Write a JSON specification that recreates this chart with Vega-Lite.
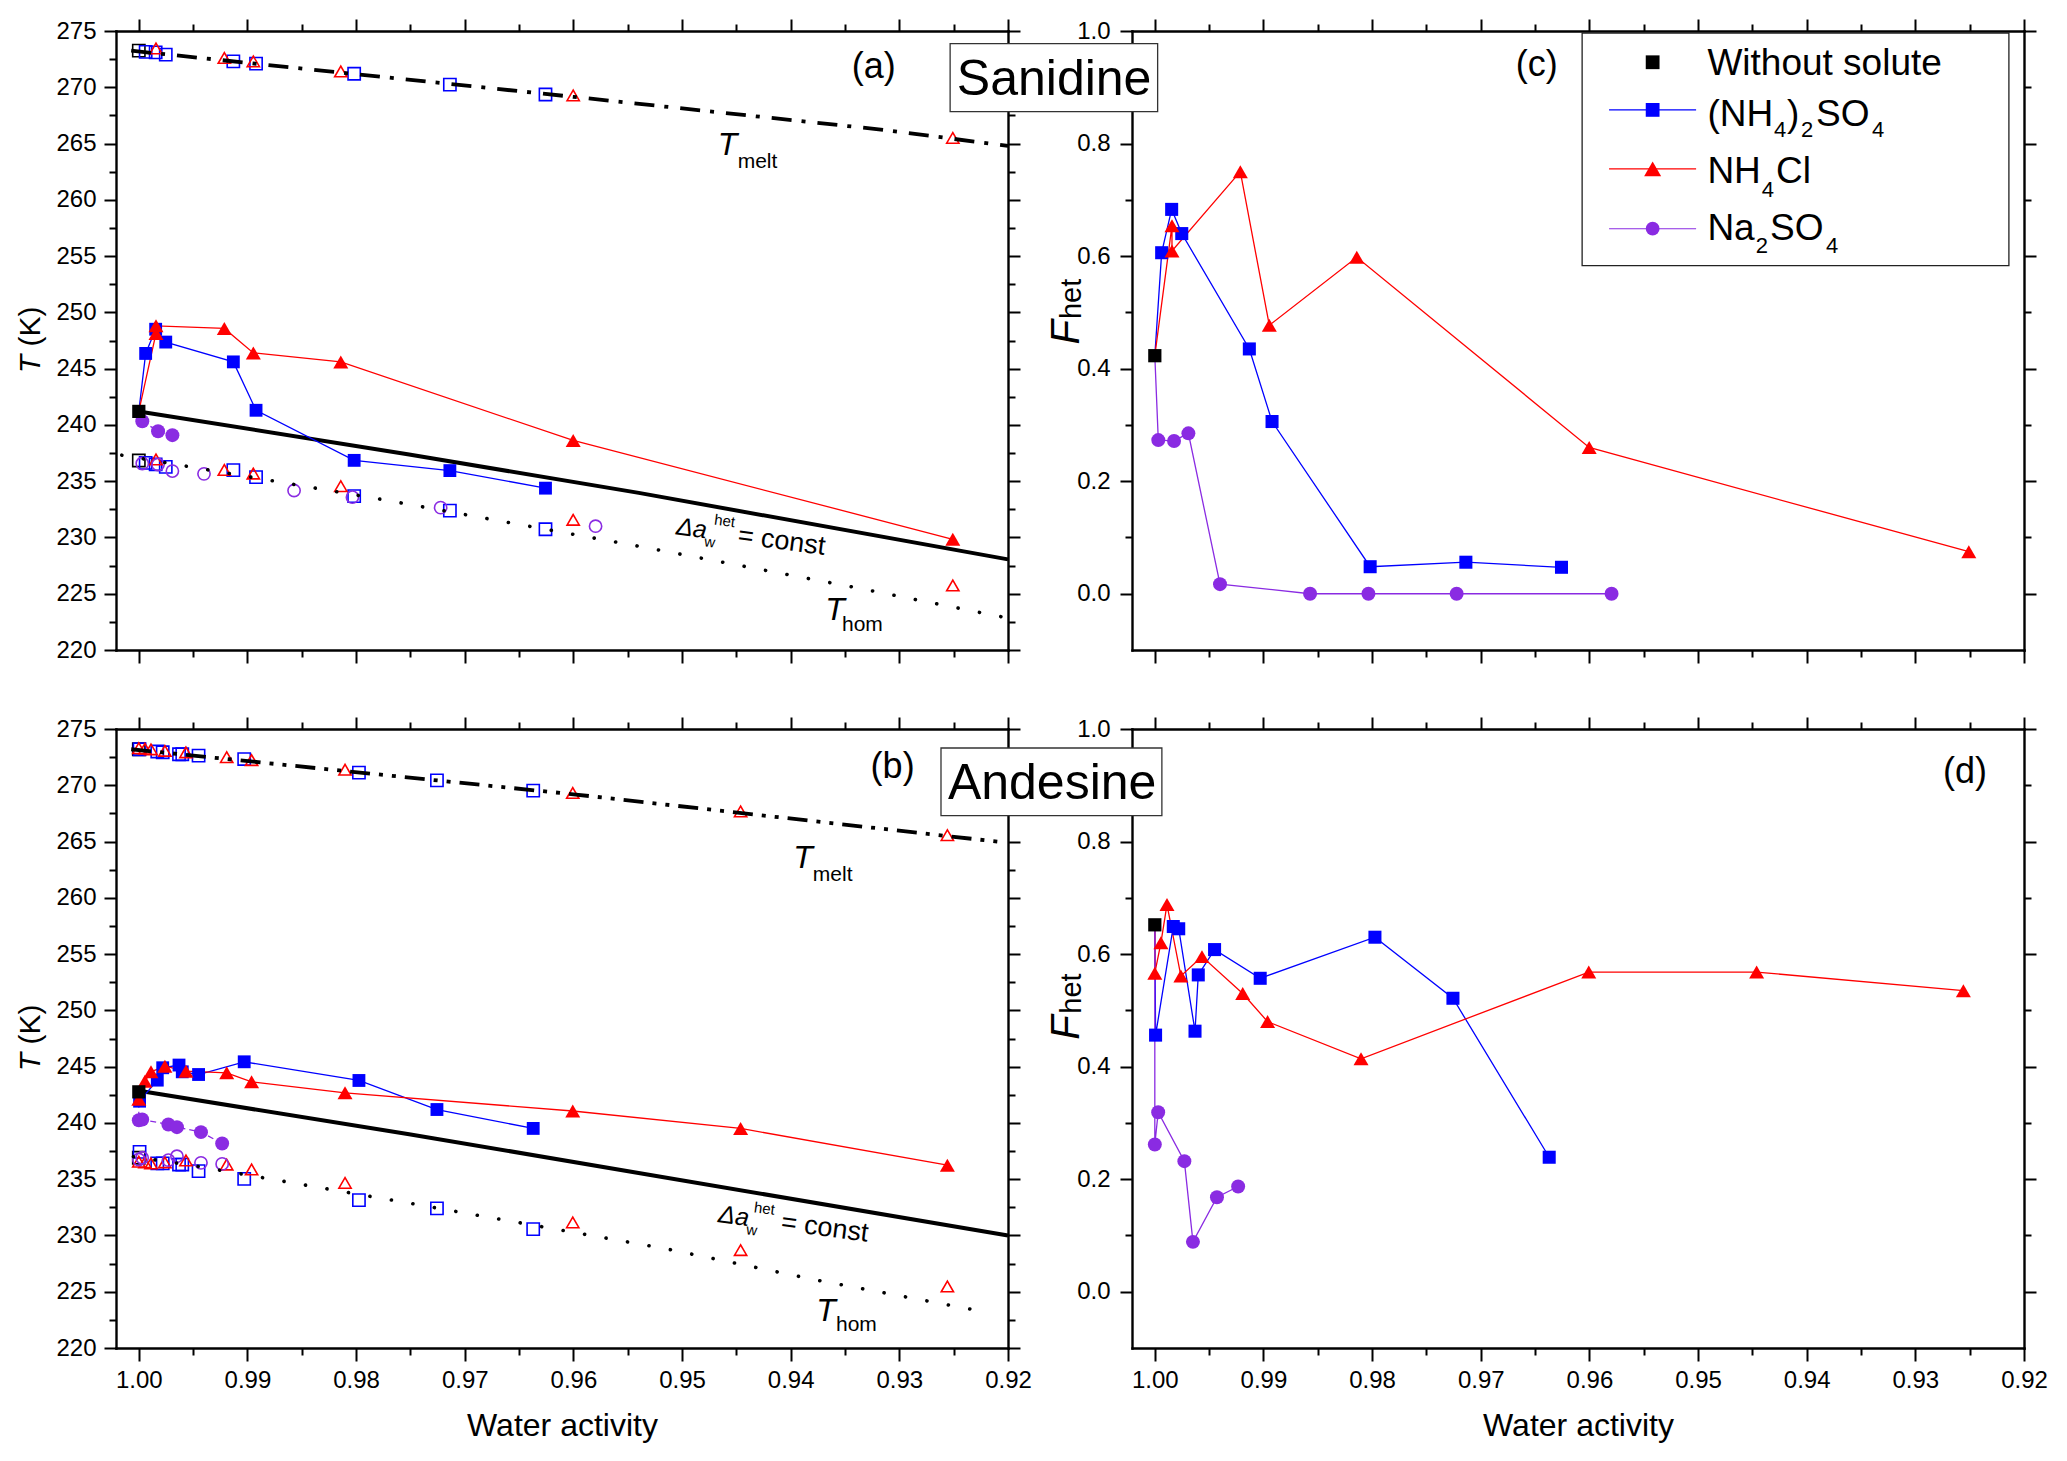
{
  "$schema": "https://vega.github.io/schema/vega-lite/v6.json",
  "background": "white",
  "padding": {"left": 16, "top": 18, "right": 12, "bottom": 12},
  "config": {
    "font": "Liberation Sans",
    "view": {"stroke": null},
    "axis": {
      "domainColor": "black", "domainWidth": 2.4, "domainCap": "square",
      "tickColor": "black", "tickWidth": 2,
      "labelFont": "Liberation Sans", "labelFontSize": 24, "labelColor": "black",
      "titleFont": "Liberation Sans", "titleFontSize": 32, "titleFontWeight": "normal", "titleColor": "black",
      "grid": false, "labelFlush": false, "labelOverlap": false
    }
  },
  "columns": 2,
  "spacing": {"row": 79, "column": 124},
  "bounds": "flush",
  "resolve": {
    "scale": {"color": "independent", "shape": "independent"},
    "legend": {"color": "independent", "shape": "independent"}
  },
  "datasets": {
    "fa": [
      {"aw": 1.0, "T": 241.2, "s": "W", "o": 1},
      {"aw": 1.0, "T": 241.2, "s": "AS", "o": 0},
      {"aw": 0.99937, "T": 246.35, "s": "AS", "o": 1},
      {"aw": 0.99845, "T": 248.5, "s": "AS", "o": 2},
      {"aw": 0.99752, "T": 247.36, "s": "AS", "o": 3},
      {"aw": 0.9913, "T": 245.6, "s": "AS", "o": 4},
      {"aw": 0.98921, "T": 241.3, "s": "AS", "o": 5},
      {"aw": 0.98018, "T": 236.85, "s": "AS", "o": 6},
      {"aw": 0.97137, "T": 235.94, "s": "AS", "o": 7},
      {"aw": 0.96257, "T": 234.38, "s": "AS", "o": 8},
      {"aw": 1.0, "T": 241.2, "s": "AC", "o": 0},
      {"aw": 0.99842, "T": 248.13, "s": "AC", "o": 1},
      {"aw": 0.99842, "T": 248.8, "s": "AC", "o": 2},
      {"aw": 0.99213, "T": 248.57, "s": "AC", "o": 3},
      {"aw": 0.98946, "T": 246.4, "s": "AC", "o": 4},
      {"aw": 0.98141, "T": 245.6, "s": "AC", "o": 5},
      {"aw": 0.96002, "T": 238.62, "s": "AC", "o": 6},
      {"aw": 0.92508, "T": 229.84, "s": "AC", "o": 7},
      {"aw": 1.0, "T": 241.2, "s": "NS", "o": 0},
      {"aw": 0.99968, "T": 240.33, "s": "NS", "o": 1},
      {"aw": 0.99823, "T": 239.44, "s": "NS", "o": 2},
      {"aw": 0.99691, "T": 239.09, "s": "NS", "o": 3}
    ],
    "oa": [
      {"aw": 1.0, "T": 273.25, "s": "W"},
      {"aw": 0.99937, "T": 273.15, "s": "AS"},
      {"aw": 0.99845, "T": 273.1, "s": "AS"},
      {"aw": 0.99752, "T": 272.9, "s": "AS"},
      {"aw": 0.9913, "T": 272.3, "s": "AS"},
      {"aw": 0.98921, "T": 272.1, "s": "AS"},
      {"aw": 0.98018, "T": 271.2, "s": "AS"},
      {"aw": 0.97137, "T": 270.24, "s": "AS"},
      {"aw": 0.96257, "T": 269.36, "s": "AS"},
      {"aw": 0.99842, "T": 273.45, "s": "AC"},
      {"aw": 0.99213, "T": 272.6, "s": "AC"},
      {"aw": 0.98946, "T": 272.3, "s": "AC"},
      {"aw": 0.98141, "T": 271.4, "s": "AC"},
      {"aw": 0.96002, "T": 269.28, "s": "AC"},
      {"aw": 0.92508, "T": 265.5, "s": "AC"},
      {"aw": 1.0, "T": 236.84, "s": "W"},
      {"aw": 0.99937, "T": 236.63, "s": "AS"},
      {"aw": 0.99845, "T": 236.5, "s": "AS"},
      {"aw": 0.99752, "T": 236.27, "s": "AS"},
      {"aw": 0.9913, "T": 235.98, "s": "AS"},
      {"aw": 0.98921, "T": 235.36, "s": "AS"},
      {"aw": 0.98018, "T": 233.67, "s": "AS"},
      {"aw": 0.97137, "T": 232.38, "s": "AS"},
      {"aw": 0.96257, "T": 230.73, "s": "AS"},
      {"aw": 0.99842, "T": 236.93, "s": "AC"},
      {"aw": 0.99213, "T": 236.0, "s": "AC"},
      {"aw": 0.98946, "T": 235.68, "s": "AC"},
      {"aw": 0.98141, "T": 234.56, "s": "AC"},
      {"aw": 0.96002, "T": 231.57, "s": "AC"},
      {"aw": 0.92508, "T": 225.73, "s": "AC"},
      {"aw": 0.99968, "T": 236.57, "s": "NS"},
      {"aw": 0.99823, "T": 236.48, "s": "NS"},
      {"aw": 0.99691, "T": 235.9, "s": "NS"},
      {"aw": 0.994, "T": 235.65, "s": "NS"},
      {"aw": 0.98571, "T": 234.17, "s": "NS"},
      {"aw": 0.98034, "T": 233.58, "s": "NS"},
      {"aw": 0.97222, "T": 232.65, "s": "NS"},
      {"aw": 0.95796, "T": 231.0, "s": "NS"}
    ],
    "fc": [
      {"aw": 1.0, "F": 0.423, "s": "W", "o": 1},
      {"aw": 1.0, "F": 0.423, "s": "AS", "o": 0},
      {"aw": 0.99937, "F": 0.606, "s": "AS", "o": 1},
      {"aw": 0.99845, "F": 0.683, "s": "AS", "o": 2},
      {"aw": 0.99752, "F": 0.64, "s": "AS", "o": 3},
      {"aw": 0.9913, "F": 0.435, "s": "AS", "o": 4},
      {"aw": 0.98921, "F": 0.306, "s": "AS", "o": 5},
      {"aw": 0.98018, "F": 0.048, "s": "AS", "o": 6},
      {"aw": 0.97137, "F": 0.056, "s": "AS", "o": 7},
      {"aw": 0.96257, "F": 0.047, "s": "AS", "o": 8},
      {"aw": 1.0, "F": 0.423, "s": "AC", "o": 0},
      {"aw": 0.99842, "F": 0.654, "s": "AC", "o": 1},
      {"aw": 0.99842, "F": 0.609, "s": "AC", "o": 2},
      {"aw": 0.99213, "F": 0.75, "s": "AC", "o": 3},
      {"aw": 0.98946, "F": 0.477, "s": "AC", "o": 4},
      {"aw": 0.98141, "F": 0.598, "s": "AC", "o": 5},
      {"aw": 0.96002, "F": 0.26, "s": "AC", "o": 6},
      {"aw": 0.92508, "F": 0.0746, "s": "AC", "o": 7},
      {"aw": 1.0, "F": 0.423, "s": "NS", "o": 0},
      {"aw": 0.99968, "F": 0.273, "s": "NS", "o": 1},
      {"aw": 0.99823, "F": 0.2715, "s": "NS", "o": 2},
      {"aw": 0.99691, "F": 0.285, "s": "NS", "o": 3},
      {"aw": 0.994, "F": 0.017, "s": "NS", "o": 4},
      {"aw": 0.98571, "F": 0.0, "s": "NS", "o": 5},
      {"aw": 0.98034, "F": 0.0, "s": "NS", "o": 6},
      {"aw": 0.97222, "F": 0.0, "s": "NS", "o": 7},
      {"aw": 0.95796, "F": 0.0, "s": "NS", "o": 8}
    ],
    "fb": [
      {"aw": 1.0, "T": 242.76, "s": "W", "o": 1},
      {"aw": 1.0, "T": 242.76, "s": "AS", "o": 0},
      {"aw": 0.99993, "T": 241.93, "s": "AS", "o": 1},
      {"aw": 0.9983, "T": 243.8, "s": "AS", "o": 2},
      {"aw": 0.9978, "T": 244.9, "s": "AS", "o": 3},
      {"aw": 0.9963, "T": 245.14, "s": "AS", "o": 4},
      {"aw": 0.996, "T": 244.54, "s": "AS", "o": 5},
      {"aw": 0.9945, "T": 244.3, "s": "AS", "o": 6},
      {"aw": 0.9903, "T": 245.43, "s": "AS", "o": 7},
      {"aw": 0.97974, "T": 243.77, "s": "AS", "o": 8},
      {"aw": 0.97256, "T": 241.19, "s": "AS", "o": 9},
      {"aw": 0.9637, "T": 239.51, "s": "AS", "o": 10},
      {"aw": 1.0, "T": 242.76, "s": "AC", "o": 0},
      {"aw": 1.0, "T": 242.1, "s": "AC", "o": 1},
      {"aw": 0.99944, "T": 243.7, "s": "AC", "o": 2},
      {"aw": 0.99888, "T": 244.54, "s": "AC", "o": 3},
      {"aw": 0.9976, "T": 245.04, "s": "AC", "o": 4},
      {"aw": 0.99566, "T": 244.6, "s": "AC", "o": 5},
      {"aw": 0.99191, "T": 244.45, "s": "AC", "o": 6},
      {"aw": 0.98962, "T": 243.65, "s": "AC", "o": 7},
      {"aw": 0.98102, "T": 242.67, "s": "AC", "o": 8},
      {"aw": 0.96006, "T": 241.06, "s": "AC", "o": 9},
      {"aw": 0.94461, "T": 239.51, "s": "AC", "o": 10},
      {"aw": 0.92558, "T": 236.24, "s": "AC", "o": 11},
      {"aw": 1.0, "T": 242.76, "s": "NS", "o": 0},
      {"aw": 1.0, "T": 240.24, "s": "NS", "o": 1},
      {"aw": 0.99969, "T": 240.3, "s": "NS", "o": 2},
      {"aw": 0.99728, "T": 239.86, "s": "NS", "o": 3},
      {"aw": 0.99649, "T": 239.62, "s": "NS", "o": 4},
      {"aw": 0.99428, "T": 239.18, "s": "NS", "o": 5},
      {"aw": 0.99233, "T": 238.17, "s": "NS", "o": 6}
    ],
    "ob": [
      {"aw": 1.0, "T": 273.2, "s": "W"},
      {"aw": 0.99993, "T": 273.2, "s": "AS"},
      {"aw": 0.9983, "T": 273.0, "s": "AS"},
      {"aw": 0.9978, "T": 272.93, "s": "AS"},
      {"aw": 0.9963, "T": 272.76, "s": "AS"},
      {"aw": 0.996, "T": 272.76, "s": "AS"},
      {"aw": 0.9945, "T": 272.63, "s": "AS"},
      {"aw": 0.9903, "T": 272.33, "s": "AS"},
      {"aw": 0.97974, "T": 271.12, "s": "AS"},
      {"aw": 0.97256, "T": 270.43, "s": "AS"},
      {"aw": 0.9637, "T": 269.53, "s": "AS"},
      {"aw": 1.0, "T": 273.3, "s": "AC"},
      {"aw": 0.99944, "T": 273.25, "s": "AC"},
      {"aw": 0.99888, "T": 273.19, "s": "AC"},
      {"aw": 0.9976, "T": 273.06, "s": "AC"},
      {"aw": 0.99566, "T": 272.93, "s": "AC"},
      {"aw": 0.99191, "T": 272.5, "s": "AC"},
      {"aw": 0.98962, "T": 272.24, "s": "AC"},
      {"aw": 0.98102, "T": 271.38, "s": "AC"},
      {"aw": 0.96006, "T": 269.32, "s": "AC"},
      {"aw": 0.94461, "T": 267.68, "s": "AC"},
      {"aw": 0.92558, "T": 265.57, "s": "AC"},
      {"aw": 1.0, "T": 236.9, "s": "W"},
      {"aw": 0.99993, "T": 237.43, "s": "AS"},
      {"aw": 0.9983, "T": 236.4, "s": "AS"},
      {"aw": 0.9978, "T": 236.4, "s": "AS"},
      {"aw": 0.9963, "T": 236.3, "s": "AS"},
      {"aw": 0.996, "T": 236.3, "s": "AS"},
      {"aw": 0.9945, "T": 235.71, "s": "AS"},
      {"aw": 0.9903, "T": 235.03, "s": "AS"},
      {"aw": 0.97974, "T": 233.14, "s": "AS"},
      {"aw": 0.97256, "T": 232.41, "s": "AS"},
      {"aw": 0.9637, "T": 230.56, "s": "AS"},
      {"aw": 1.0, "T": 236.55, "s": "AC"},
      {"aw": 0.99944, "T": 236.5, "s": "AC"},
      {"aw": 0.99888, "T": 236.4, "s": "AC"},
      {"aw": 0.9976, "T": 236.5, "s": "AC"},
      {"aw": 0.99566, "T": 236.66, "s": "AC"},
      {"aw": 0.99191, "T": 236.3, "s": "AC"},
      {"aw": 0.98962, "T": 235.86, "s": "AC"},
      {"aw": 0.98102, "T": 234.67, "s": "AC"},
      {"aw": 0.96006, "T": 231.16, "s": "AC"},
      {"aw": 0.94461, "T": 228.7, "s": "AC"},
      {"aw": 0.92558, "T": 225.47, "s": "AC"},
      {"aw": 1.0, "T": 236.75, "s": "NS"},
      {"aw": 0.99969, "T": 236.9, "s": "NS"},
      {"aw": 0.99728, "T": 236.69, "s": "NS"},
      {"aw": 0.99649, "T": 237.04, "s": "NS"},
      {"aw": 0.99428, "T": 236.45, "s": "NS"},
      {"aw": 0.99233, "T": 236.36, "s": "NS"}
    ],
    "fd": [
      {"aw": 1.0, "F": 0.652, "s": "W", "o": 1},
      {"aw": 1.0, "F": 0.652, "s": "AS", "o": 0},
      {"aw": 0.99993, "F": 0.456, "s": "AS", "o": 1},
      {"aw": 0.9983, "F": 0.649, "s": "AS", "o": 2},
      {"aw": 0.9978, "F": 0.645, "s": "AS", "o": 3},
      {"aw": 0.9963, "F": 0.463, "s": "AS", "o": 4},
      {"aw": 0.996, "F": 0.563, "s": "AS", "o": 5},
      {"aw": 0.9945, "F": 0.608, "s": "AS", "o": 6},
      {"aw": 0.9903, "F": 0.557, "s": "AS", "o": 7},
      {"aw": 0.97974, "F": 0.63, "s": "AS", "o": 8},
      {"aw": 0.97256, "F": 0.5215, "s": "AS", "o": 9},
      {"aw": 0.9637, "F": 0.239, "s": "AS", "o": 10},
      {"aw": 1.0, "F": 0.652, "s": "AC", "o": 0},
      {"aw": 1.0, "F": 0.566, "s": "AC", "o": 1},
      {"aw": 0.99944, "F": 0.62, "s": "AC", "o": 2},
      {"aw": 0.99888, "F": 0.688, "s": "AC", "o": 3},
      {"aw": 0.9976, "F": 0.561, "s": "AC", "o": 4},
      {"aw": 0.99566, "F": 0.5955, "s": "AC", "o": 5},
      {"aw": 0.99191, "F": 0.53, "s": "AC", "o": 6},
      {"aw": 0.98962, "F": 0.48, "s": "AC", "o": 7},
      {"aw": 0.98102, "F": 0.414, "s": "AC", "o": 8},
      {"aw": 0.96006, "F": 0.568, "s": "AC", "o": 9},
      {"aw": 0.94461, "F": 0.568, "s": "AC", "o": 10},
      {"aw": 0.92558, "F": 0.535, "s": "AC", "o": 11},
      {"aw": 1.0, "F": 0.652, "s": "NS", "o": 0},
      {"aw": 1.0, "F": 0.2616, "s": "NS", "o": 1},
      {"aw": 0.99969, "F": 0.319, "s": "NS", "o": 2},
      {"aw": 0.99728, "F": 0.232, "s": "NS", "o": 3},
      {"aw": 0.99649, "F": 0.0886, "s": "NS", "o": 4},
      {"aw": 0.99428, "F": 0.168, "s": "NS", "o": 5},
      {"aw": 0.99233, "F": 0.187, "s": "NS", "o": 6}
    ],
    "meltA": [{"aw": 1.0007, "T": 273.25}, {"aw": 0.96, "T": 269.15}, {"aw": 0.93191, "T": 266.26}, {"aw": 0.92, "T": 264.8}],
    "thomA": [{"aw": 1.00157, "T": 237.31}, {"aw": 0.97758, "T": 233.37}, {"aw": 0.954, "T": 229.22}, {"aw": 0.9342, "T": 225.58}, {"aw": 0.9204, "T": 222.91}],
    "daA": [{"aw": 1.0, "T": 241.2}, {"aw": 0.97512, "T": 237.37}, {"aw": 0.95398, "T": 233.96}, {"aw": 0.92, "T": 228.05}],
    "meltB": [{"aw": 1.0007, "T": 273.2}, {"aw": 0.96, "T": 269.2}, {"aw": 0.9206, "T": 264.95}],
    "thomB": [{"aw": 1.0005, "T": 237.0}, {"aw": 0.99507, "T": 236.22}, {"aw": 0.98709, "T": 234.88}, {"aw": 0.97528, "T": 232.9}, {"aw": 0.95155, "T": 228.83}, {"aw": 0.9376, "T": 226.03}, {"aw": 0.9218, "T": 223.15}],
    "daB": [{"aw": 1.0, "T": 242.85}, {"aw": 0.97512, "T": 239.0}, {"aw": 0.92, "T": 230.0}],
    "zero": [{"F": 0}],
    "ytT": [{"aw": 1.00907, "T": 244.6, "t": "T"}],
    "ytK": [{"aw": 1.00907, "T": 246.96, "t": "(K)"}],
    "a_T": [{"aw": 0.94672, "T": 264.0, "t": "T"}, {"aw": 0.93681, "T": 222.71, "t": "T"}],
    "a_sub": [{"aw": 0.94488, "T": 262.85, "t": "melt"}, {"aw": 0.93528, "T": 221.67, "t": "hom"}],
    "a_da": [{"aw": 0.95061, "T": 230.29, "t": "Δa"}],
    "a_ss": [{"aw": 0.94708, "T": 231.15, "t": "het"}, {"aw": 0.948, "T": 229.22, "t": "w"}],
    "a_eq": [{"aw": 0.94494, "T": 229.46, "t": "= const"}],
    "a_lab": [{"aw": 0.93236, "T": 270.84, "t": "(a)"}],
    "b_T": [{"aw": 0.93976, "T": 262.63, "t": "T"}, {"aw": 0.93764, "T": 222.36, "t": "T"}],
    "b_sub": [{"aw": 0.93796, "T": 261.47, "t": "melt"}, {"aw": 0.93583, "T": 221.51, "t": "hom"}],
    "b_da": [{"aw": 0.94673, "T": 231.2, "t": "Δa"}],
    "b_ss": [{"aw": 0.94343, "T": 232.07, "t": "het"}, {"aw": 0.94414, "T": 230.11, "t": "w"}],
    "b_eq": [{"aw": 0.94097, "T": 230.47, "t": "= const"}],
    "b_lab": [{"aw": 0.93062, "T": 270.64, "t": "(b)"}],
    "c_lab": [{"aw": 0.96484, "F": 0.92, "t": "(c)"}],
    "c_F": [{"aw": 1.00695, "F": 0.443, "t": "F"}],
    "c_het": [{"aw": 1.00681, "F": 0.488, "t": "het"}],
    "c_box": [{"aw": 1.01884, "aw2": 0.99974, "F": 0.97746, "F2": 0.85679}],
    "c_name": [{"aw": 1.00927, "F": 0.88642, "t": "Sanidine"}],
    "c_leg": [{"aw": 0.96067, "aw2": 0.92139, "F": 0.99645, "F2": 0.58296}],
    "c_legl": [
      {"aw": 0.95819, "aw2": 0.95018, "F": 0.8598, "s": "AS"},
      {"aw": 0.95819, "aw2": 0.95018, "F": 0.7551, "s": "AC"},
      {"aw": 0.95819, "aw2": 0.95018, "F": 0.64862, "s": "NS"}
    ],
    "c_legs": [
      {"aw": 0.95418, "F": 0.94446, "s": "W"},
      {"aw": 0.95418, "F": 0.8598, "s": "AS"},
      {"aw": 0.95418, "F": 0.7551, "s": "AC"},
      {"aw": 0.95418, "F": 0.64862, "s": "NS"}
    ],
    "c_legt": [
      {"aw": 0.94914, "F": 0.9219, "t": "Without solute"},
      {"aw": 0.94914, "F": 0.832, "t": "(NH"},
      {"aw": 0.94181, "F": 0.832, "t": ")"},
      {"aw": 0.93914, "F": 0.832, "t": "SO"},
      {"aw": 0.94914, "F": 0.7303, "t": "NH"},
      {"aw": 0.94282, "F": 0.7303, "t": "Cl"},
      {"aw": 0.94914, "F": 0.6279, "t": "Na"},
      {"aw": 0.94338, "F": 0.6279, "t": "SO"}
    ],
    "c_legsub": [
      {"aw": 0.94301, "F": 0.8114, "t": "4"},
      {"aw": 0.94052, "F": 0.8114, "t": "2"},
      {"aw": 0.93399, "F": 0.8114, "t": "4"},
      {"aw": 0.94414, "F": 0.7042, "t": "4"},
      {"aw": 0.94469, "F": 0.606, "t": "2"},
      {"aw": 0.93822, "F": 0.606, "t": "4"}
    ],
    "d_lab": [{"aw": 0.92544, "F": 0.9042, "t": "(d)"}],
    "d_F": [{"aw": 1.00695, "F": 0.448, "t": "F"}],
    "d_het": [{"aw": 1.00681, "F": 0.494, "t": "het"}],
    "d_box": [{"aw": 1.01968, "aw2": 0.99935, "F": 0.96628, "F2": 0.84596}],
    "d_name": [{"aw": 1.00945, "F": 0.87507, "t": "Andesine"}]
  },
  "concat": [
    {
      "width": 892, "height": 619,
      "encoding": {
        "x": {"field": "aw", "type": "quantitative", "scale": {"domain": [0.92, 1.0021], "reverse": true, "nice": false, "zero": false}, "axis": null},
        "y": {"field": "T", "type": "quantitative", "scale": {"domain": [220, 275], "nice": false, "zero": false}, "axis": null}
      },
      "resolve": {"axis": {"x": "independent", "y": "independent"}},
      "layer": [
        {"data": {"name": "oa"}, "mark": {"type": "point", "filled": false, "opacity": 1, "strokeWidth": 1.6, "size": 150},
         "encoding": {
           "color": {"field": "s", "type": "nominal", "scale": {"domain": ["W", "AS", "AC", "NS"], "range": ["#000000", "#0000ff", "#ff0000", "#8a2be2"]}, "legend": null},
           "shape": {"field": "s", "type": "nominal", "scale": {"domain": ["W", "AS", "AC", "NS"], "range": ["square", "square", "triangle-up", "circle"]}, "legend": null}
         }},
        {"data": {"name": "thomA"}, "mark": {"type": "line", "color": "black", "strokeWidth": 3.6, "strokeDash": [0.1, 21.7], "strokeCap": "round"},
         "encoding": {
           "x": {"field": "aw", "type": "quantitative", "scale": {"domain": [0.92, 1.0021], "reverse": true, "nice": false, "zero": false}, "axis": {"orient": "bottom", "values": [1.0, 0.99, 0.98, 0.97, 0.96, 0.95, 0.94, 0.93, 0.92], "labels": false, "tickSize": 13, "title": null}},
           "y": {"field": "T", "type": "quantitative", "scale": {"domain": [220, 275], "nice": false, "zero": false}, "axis": {"orient": "left", "values": [220, 225, 230, 235, 240, 245, 250, 255, 260, 265, 270, 275], "format": "d", "tickSize": 12, "labelPadding": 8, "title": null}}
         }},
        {"data": {"name": "meltA"}, "mark": {"type": "line", "color": "black", "strokeWidth": 3.8, "strokeDash": [20, 10, 4, 12]},
         "encoding": {
           "x": {"field": "aw", "type": "quantitative", "scale": {"domain": [0.92, 1.0021], "reverse": true, "nice": false, "zero": false}, "axis": {"orient": "bottom", "values": [0.995, 0.985, 0.975, 0.965, 0.955, 0.945, 0.935, 0.925], "labels": false, "domain": false, "tickSize": 7, "title": null}},
           "y": {"field": "T", "type": "quantitative", "scale": {"domain": [220, 275], "nice": false, "zero": false}, "axis": {"orient": "left", "values": [222.5, 227.5, 232.5, 237.5, 242.5, 247.5, 252.5, 257.5, 262.5, 267.5, 272.5], "labels": false, "domain": false, "tickSize": 7, "title": null}}
         }},
        {"data": {"name": "daA"}, "mark": {"type": "line", "color": "black", "strokeWidth": 4},
         "encoding": {
           "x": {"field": "aw", "type": "quantitative", "scale": {"domain": [0.92, 1.0021], "reverse": true, "nice": false, "zero": false}, "axis": {"orient": "top", "values": [1.0, 0.99, 0.98, 0.97, 0.96, 0.95, 0.94, 0.93, 0.92], "labels": false, "tickSize": 12, "title": null}},
           "y": {"field": "T", "type": "quantitative", "scale": {"domain": [220, 275], "nice": false, "zero": false}, "axis": {"orient": "right", "values": [220, 225, 230, 235, 240, 245, 250, 255, 260, 265, 270, 275], "labels": false, "tickSize": 12, "title": null}}
         }},
        {"data": {"name": "fa"}, "transform": [{"filter": "datum.s == 'AS' || datum.s == 'AC'"}], "mark": {"type": "line", "strokeWidth": 1.3},
         "encoding": {
           "x": {"field": "aw", "type": "quantitative", "scale": {"domain": [0.92, 1.0021], "reverse": true, "nice": false, "zero": false}, "axis": {"orient": "top", "values": [0.995, 0.985, 0.975, 0.965, 0.955, 0.945, 0.935, 0.925], "labels": false, "domain": false, "tickSize": 7, "title": null}},
           "y": {"field": "T", "type": "quantitative", "scale": {"domain": [220, 275], "nice": false, "zero": false}, "axis": {"orient": "right", "values": [222.5, 227.5, 232.5, 237.5, 242.5, 247.5, 252.5, 257.5, 262.5, 267.5, 272.5], "labels": false, "domain": false, "tickSize": 7, "title": null}},
           "color": {"field": "s", "type": "nominal", "scale": {"domain": ["W", "AS", "AC", "NS"], "range": ["#000000", "#0000ff", "#ff0000", "#8a2be2"]}, "legend": null},
           "order": {"field": "o", "type": "quantitative"}
         }},
        {"data": {"name": "fa"}, "transform": [{"filter": "datum.s == 'NS'"}], "mark": {"type": "line", "strokeWidth": 1.3, "color": "#8a2be2", "strokeDash": [6, 4]},
         "encoding": {"order": {"field": "o", "type": "quantitative"}}},
        {"data": {"name": "fa"}, "transform": [{"filter": "datum.s == 'AS' && datum.o > 0"}], "mark": {"type": "point", "shape": "square", "filled": true, "opacity": 1, "color": "#0000ff", "size": 165}},
        {"data": {"name": "fa"}, "transform": [{"filter": "datum.s == 'AC' && datum.o > 0"}], "mark": {"type": "point", "shape": "triangle-up", "filled": true, "opacity": 1, "color": "#ff0000", "size": 225}},
        {"data": {"name": "fa"}, "transform": [{"filter": "datum.s == 'NS' && datum.o > 0"}], "mark": {"type": "point", "shape": "circle", "filled": true, "opacity": 1, "color": "#8a2be2", "size": 195}},
        {"data": {"name": "fa"}, "transform": [{"filter": "datum.s == 'W'"}], "mark": {"type": "point", "shape": "square", "filled": true, "opacity": 1, "color": "#000000", "size": 175}},
        {"data": {"name": "a_T"}, "mark": {"type": "text", "fontStyle": "italic", "fontSize": 32, "align": "left", "baseline": "alphabetic", "color": "black"}, "encoding": {"text": {"field": "t"}}},
        {"data": {"name": "a_sub"}, "mark": {"type": "text", "fontSize": 21, "align": "left", "baseline": "alphabetic", "color": "black"}, "encoding": {"text": {"field": "t"}}},
        {"data": {"name": "a_da"}, "mark": {"type": "text", "fontStyle": "italic", "fontSize": 25, "angle": 7.5, "align": "left", "baseline": "alphabetic", "color": "black"}, "encoding": {"text": {"field": "t"}}},
        {"data": {"name": "a_ss"}, "mark": {"type": "text", "fontSize": 15, "angle": 7.5, "align": "left", "baseline": "alphabetic", "color": "black"}, "encoding": {"text": {"field": "t"}}},
        {"data": {"name": "a_eq"}, "mark": {"type": "text", "fontSize": 27, "angle": 7.5, "align": "left", "baseline": "alphabetic", "color": "black"}, "encoding": {"text": {"field": "t"}}},
        {"data": {"name": "a_lab"}, "mark": {"type": "text", "fontSize": 36, "align": "center", "baseline": "alphabetic", "color": "black"}, "encoding": {"text": {"field": "t"}}},
        {"data": {"name": "ytT"}, "mark": {"type": "text", "fontStyle": "italic", "fontSize": 30, "angle": 270, "align": "left", "baseline": "alphabetic", "color": "black"}, "encoding": {"text": {"field": "t"}}},
        {"data": {"name": "ytK"}, "mark": {"type": "text", "fontSize": 30, "angle": 270, "align": "left", "baseline": "alphabetic", "color": "black"}, "encoding": {"text": {"field": "t"}}}
      ]
    },
    {
      "width": 892, "height": 619,
      "encoding": {
        "x": {"field": "aw", "type": "quantitative", "scale": {"domain": [0.92, 1.0021], "reverse": true, "nice": false, "zero": false}, "axis": null},
        "y": {"field": "F", "type": "quantitative", "scale": {"domain": [-0.1, 1.0], "nice": false, "zero": false}, "axis": null}
      },
      "resolve": {"axis": {"x": "independent", "y": "independent"}},
      "layer": [
        {"data": {"name": "zero"}, "mark": {"type": "rule", "color": "#008000", "strokeWidth": 1.6, "strokeDash": [8, 5]},
         "encoding": {"x": {"datum": 1.0021, "type": "quantitative", "axis": null}, "x2": {"datum": 0.92}}},
        {"data": {"name": "fc"}, "transform": [{"filter": "datum.s != 'W'"}], "mark": {"type": "line", "strokeWidth": 1.3},
         "encoding": {
           "x": {"field": "aw", "type": "quantitative", "scale": {"domain": [0.92, 1.0021], "reverse": true, "nice": false, "zero": false}, "axis": {"orient": "bottom", "values": [1.0, 0.99, 0.98, 0.97, 0.96, 0.95, 0.94, 0.93, 0.92], "labels": false, "tickSize": 13, "title": null}},
           "y": {"field": "F", "type": "quantitative", "scale": {"domain": [-0.1, 1.0], "nice": false, "zero": false}, "axis": {"orient": "left", "values": [0, 0.2, 0.4, 0.6, 0.8, 1.0], "format": ".1f", "tickSize": 12, "labelPadding": 10, "title": null}},
           "color": {"field": "s", "type": "nominal", "scale": {"domain": ["W", "AS", "AC", "NS"], "range": ["#000000", "#0000ff", "#ff0000", "#8a2be2"]}, "legend": null},
           "order": {"field": "o", "type": "quantitative"}
         }},
        {"data": {"name": "fc"}, "transform": [{"filter": "datum.s == 'AS' && datum.o > 0"}], "mark": {"type": "point", "shape": "square", "filled": true, "opacity": 1, "color": "#0000ff", "size": 170},
         "encoding": {
           "x": {"field": "aw", "type": "quantitative", "scale": {"domain": [0.92, 1.0021], "reverse": true, "nice": false, "zero": false}, "axis": {"orient": "bottom", "values": [0.995, 0.985, 0.975, 0.965, 0.955, 0.945, 0.935, 0.925], "labels": false, "domain": false, "tickSize": 7, "title": null}},
           "y": {"field": "F", "type": "quantitative", "scale": {"domain": [-0.1, 1.0], "nice": false, "zero": false}, "axis": {"orient": "left", "values": [0.1, 0.3, 0.5, 0.7, 0.9], "labels": false, "domain": false, "tickSize": 7, "title": null}}
         }},
        {"data": {"name": "fc"}, "transform": [{"filter": "datum.s == 'AC' && datum.o > 0"}], "mark": {"type": "point", "shape": "triangle-up", "filled": true, "opacity": 1, "color": "#ff0000", "size": 225},
         "encoding": {
           "x": {"field": "aw", "type": "quantitative", "scale": {"domain": [0.92, 1.0021], "reverse": true, "nice": false, "zero": false}, "axis": {"orient": "top", "values": [1.0, 0.99, 0.98, 0.97, 0.96, 0.95, 0.94, 0.93, 0.92], "labels": false, "tickSize": 12, "title": null}},
           "y": {"field": "F", "type": "quantitative", "scale": {"domain": [-0.1, 1.0], "nice": false, "zero": false}, "axis": {"orient": "right", "values": [0, 0.2, 0.4, 0.6, 0.8, 1.0], "labels": false, "tickSize": 12, "title": null}}
         }},
        {"data": {"name": "fc"}, "transform": [{"filter": "datum.s == 'NS' && datum.o > 0"}], "mark": {"type": "point", "shape": "circle", "filled": true, "opacity": 1, "color": "#8a2be2", "size": 195},
         "encoding": {
           "x": {"field": "aw", "type": "quantitative", "scale": {"domain": [0.92, 1.0021], "reverse": true, "nice": false, "zero": false}, "axis": {"orient": "top", "values": [0.995, 0.985, 0.975, 0.965, 0.955, 0.945, 0.935, 0.925], "labels": false, "domain": false, "tickSize": 7, "title": null}},
           "y": {"field": "F", "type": "quantitative", "scale": {"domain": [-0.1, 1.0], "nice": false, "zero": false}, "axis": {"orient": "right", "values": [0.1, 0.3, 0.5, 0.7, 0.9], "labels": false, "domain": false, "tickSize": 7, "title": null}}
         }},
        {"data": {"name": "fc"}, "transform": [{"filter": "datum.s == 'W'"}], "mark": {"type": "point", "shape": "square", "filled": true, "opacity": 1, "color": "#000000", "size": 175}},
        {"data": {"name": "c_leg"}, "mark": {"type": "rect", "fill": "white", "stroke": "#222222", "strokeWidth": 1.3}, "encoding": {"x2": {"field": "aw2"}, "y2": {"field": "F2"}}},
        {"data": {"name": "c_legl"}, "mark": {"type": "rule", "strokeWidth": 1.2},
         "encoding": {"x2": {"field": "aw2"}, "color": {"field": "s", "type": "nominal", "scale": {"domain": ["W", "AS", "AC", "NS"], "range": ["#000000", "#0000ff", "#ff0000", "#8a2be2"]}, "legend": null}}},
        {"data": {"name": "c_legs"}, "transform": [{"filter": "datum.s != 'AC'"}], "mark": {"type": "point", "filled": true, "opacity": 1, "size": 190},
         "encoding": {
           "color": {"field": "s", "type": "nominal", "scale": {"domain": ["W", "AS", "AC", "NS"], "range": ["#000000", "#0000ff", "#ff0000", "#8a2be2"]}, "legend": null},
           "shape": {"field": "s", "type": "nominal", "scale": {"domain": ["W", "AS", "AC", "NS"], "range": ["square", "square", "triangle-up", "circle"]}, "legend": null}
         }},
        {"data": {"name": "c_legs"}, "transform": [{"filter": "datum.s == 'AC'"}], "mark": {"type": "point", "filled": true, "opacity": 1, "size": 290, "shape": "triangle-up", "color": "#ff0000"}},
        {"data": {"name": "c_legt"}, "mark": {"type": "text", "fontSize": 37, "align": "left", "baseline": "alphabetic", "color": "black"}, "encoding": {"text": {"field": "t"}}},
        {"data": {"name": "c_legsub"}, "mark": {"type": "text", "fontSize": 22, "align": "left", "baseline": "alphabetic", "color": "black"}, "encoding": {"text": {"field": "t"}}},
        {"data": {"name": "c_box"}, "mark": {"type": "rect", "fill": "white", "stroke": "#333333", "strokeWidth": 1.3}, "encoding": {"x2": {"field": "aw2"}, "y2": {"field": "F2"}}},
        {"data": {"name": "c_name"}, "mark": {"type": "text", "fontSize": 50, "align": "center", "baseline": "alphabetic", "color": "black"}, "encoding": {"text": {"field": "t"}}},
        {"data": {"name": "c_lab"}, "mark": {"type": "text", "fontSize": 36, "align": "center", "baseline": "alphabetic", "color": "black"}, "encoding": {"text": {"field": "t"}}},
        {"data": {"name": "c_F"}, "mark": {"type": "text", "fontStyle": "italic", "fontSize": 40, "angle": 270, "align": "left", "baseline": "alphabetic", "color": "black"}, "encoding": {"text": {"field": "t"}}},
        {"data": {"name": "c_het"}, "mark": {"type": "text", "fontSize": 29, "angle": 270, "align": "left", "baseline": "alphabetic", "color": "black"}, "encoding": {"text": {"field": "t"}}}
      ]
    },
    {
      "width": 892, "height": 619,
      "encoding": {
        "x": {"field": "aw", "type": "quantitative", "scale": {"domain": [0.92, 1.0021], "reverse": true, "nice": false, "zero": false}, "axis": null},
        "y": {"field": "T", "type": "quantitative", "scale": {"domain": [220, 275], "nice": false, "zero": false}, "axis": null}
      },
      "resolve": {"axis": {"x": "independent", "y": "independent"}},
      "layer": [
        {"data": {"name": "ob"}, "mark": {"type": "point", "filled": false, "opacity": 1, "strokeWidth": 1.6, "size": 150},
         "encoding": {
           "color": {"field": "s", "type": "nominal", "scale": {"domain": ["W", "AS", "AC", "NS"], "range": ["#000000", "#0000ff", "#ff0000", "#8a2be2"]}, "legend": null},
           "shape": {"field": "s", "type": "nominal", "scale": {"domain": ["W", "AS", "AC", "NS"], "range": ["square", "square", "triangle-up", "circle"]}, "legend": null}
         }},
        {"data": {"name": "thomB"}, "mark": {"type": "line", "color": "black", "strokeWidth": 3.6, "strokeDash": [0.1, 21.7], "strokeCap": "round"},
         "encoding": {
           "x": {"field": "aw", "type": "quantitative", "scale": {"domain": [0.92, 1.0021], "reverse": true, "nice": false, "zero": false}, "axis": {"orient": "bottom", "values": [1.0, 0.99, 0.98, 0.97, 0.96, 0.95, 0.94, 0.93, 0.92], "format": ".2f", "tickSize": 13, "labelPadding": 7, "title": "Water activity", "titlePadding": 18}},
           "y": {"field": "T", "type": "quantitative", "scale": {"domain": [220, 275], "nice": false, "zero": false}, "axis": {"orient": "left", "values": [220, 225, 230, 235, 240, 245, 250, 255, 260, 265, 270, 275], "format": "d", "tickSize": 12, "labelPadding": 8, "title": null}}
         }},
        {"data": {"name": "meltB"}, "mark": {"type": "line", "color": "black", "strokeWidth": 3.8, "strokeDash": [20, 9, 4, 9, 4, 9]},
         "encoding": {
           "x": {"field": "aw", "type": "quantitative", "scale": {"domain": [0.92, 1.0021], "reverse": true, "nice": false, "zero": false}, "axis": {"orient": "bottom", "values": [0.995, 0.985, 0.975, 0.965, 0.955, 0.945, 0.935, 0.925], "labels": false, "domain": false, "tickSize": 7, "title": null}},
           "y": {"field": "T", "type": "quantitative", "scale": {"domain": [220, 275], "nice": false, "zero": false}, "axis": {"orient": "left", "values": [222.5, 227.5, 232.5, 237.5, 242.5, 247.5, 252.5, 257.5, 262.5, 267.5, 272.5], "labels": false, "domain": false, "tickSize": 7, "title": null}}
         }},
        {"data": {"name": "daB"}, "mark": {"type": "line", "color": "black", "strokeWidth": 4},
         "encoding": {
           "x": {"field": "aw", "type": "quantitative", "scale": {"domain": [0.92, 1.0021], "reverse": true, "nice": false, "zero": false}, "axis": {"orient": "top", "values": [1.0, 0.99, 0.98, 0.97, 0.96, 0.95, 0.94, 0.93, 0.92], "labels": false, "tickSize": 12, "title": null}},
           "y": {"field": "T", "type": "quantitative", "scale": {"domain": [220, 275], "nice": false, "zero": false}, "axis": {"orient": "right", "values": [220, 225, 230, 235, 240, 245, 250, 255, 260, 265, 270, 275], "labels": false, "tickSize": 12, "title": null}}
         }},
        {"data": {"name": "fb"}, "transform": [{"filter": "datum.s == 'AS' || datum.s == 'AC'"}], "mark": {"type": "line", "strokeWidth": 1.3},
         "encoding": {
           "x": {"field": "aw", "type": "quantitative", "scale": {"domain": [0.92, 1.0021], "reverse": true, "nice": false, "zero": false}, "axis": {"orient": "top", "values": [0.995, 0.985, 0.975, 0.965, 0.955, 0.945, 0.935, 0.925], "labels": false, "domain": false, "tickSize": 7, "title": null}},
           "y": {"field": "T", "type": "quantitative", "scale": {"domain": [220, 275], "nice": false, "zero": false}, "axis": {"orient": "right", "values": [222.5, 227.5, 232.5, 237.5, 242.5, 247.5, 252.5, 257.5, 262.5, 267.5, 272.5], "labels": false, "domain": false, "tickSize": 7, "title": null}},
           "color": {"field": "s", "type": "nominal", "scale": {"domain": ["W", "AS", "AC", "NS"], "range": ["#000000", "#0000ff", "#ff0000", "#8a2be2"]}, "legend": null},
           "order": {"field": "o", "type": "quantitative"}
         }},
        {"data": {"name": "fb"}, "transform": [{"filter": "datum.s == 'NS'"}], "mark": {"type": "line", "strokeWidth": 1.3, "color": "#8a2be2", "strokeDash": [6, 4]},
         "encoding": {"order": {"field": "o", "type": "quantitative"}}},
        {"data": {"name": "fb"}, "transform": [{"filter": "datum.s == 'AS' && datum.o > 0"}], "mark": {"type": "point", "shape": "square", "filled": true, "opacity": 1, "color": "#0000ff", "size": 165}},
        {"data": {"name": "fb"}, "transform": [{"filter": "datum.s == 'AC' && datum.o > 0"}], "mark": {"type": "point", "shape": "triangle-up", "filled": true, "opacity": 1, "color": "#ff0000", "size": 225}},
        {"data": {"name": "fb"}, "transform": [{"filter": "datum.s == 'NS' && datum.o > 0"}], "mark": {"type": "point", "shape": "circle", "filled": true, "opacity": 1, "color": "#8a2be2", "size": 195}},
        {"data": {"name": "fb"}, "transform": [{"filter": "datum.s == 'W'"}], "mark": {"type": "point", "shape": "square", "filled": true, "opacity": 1, "color": "#000000", "size": 175}},
        {"data": {"name": "b_T"}, "mark": {"type": "text", "fontStyle": "italic", "fontSize": 32, "align": "left", "baseline": "alphabetic", "color": "black"}, "encoding": {"text": {"field": "t"}}},
        {"data": {"name": "b_sub"}, "mark": {"type": "text", "fontSize": 21, "align": "left", "baseline": "alphabetic", "color": "black"}, "encoding": {"text": {"field": "t"}}},
        {"data": {"name": "b_da"}, "mark": {"type": "text", "fontStyle": "italic", "fontSize": 25, "angle": 7.5, "align": "left", "baseline": "alphabetic", "color": "black"}, "encoding": {"text": {"field": "t"}}},
        {"data": {"name": "b_ss"}, "mark": {"type": "text", "fontSize": 15, "angle": 7.5, "align": "left", "baseline": "alphabetic", "color": "black"}, "encoding": {"text": {"field": "t"}}},
        {"data": {"name": "b_eq"}, "mark": {"type": "text", "fontSize": 27, "angle": 7.5, "align": "left", "baseline": "alphabetic", "color": "black"}, "encoding": {"text": {"field": "t"}}},
        {"data": {"name": "b_lab"}, "mark": {"type": "text", "fontSize": 36, "align": "center", "baseline": "alphabetic", "color": "black"}, "encoding": {"text": {"field": "t"}}},
        {"data": {"name": "ytT"}, "mark": {"type": "text", "fontStyle": "italic", "fontSize": 30, "angle": 270, "align": "left", "baseline": "alphabetic", "color": "black"}, "encoding": {"text": {"field": "t"}}},
        {"data": {"name": "ytK"}, "mark": {"type": "text", "fontSize": 30, "angle": 270, "align": "left", "baseline": "alphabetic", "color": "black"}, "encoding": {"text": {"field": "t"}}}
      ]
    },
    {
      "width": 892, "height": 619,
      "encoding": {
        "x": {"field": "aw", "type": "quantitative", "scale": {"domain": [0.92, 1.0021], "reverse": true, "nice": false, "zero": false}, "axis": null},
        "y": {"field": "F", "type": "quantitative", "scale": {"domain": [-0.1, 1.0], "nice": false, "zero": false}, "axis": null}
      },
      "resolve": {"axis": {"x": "independent", "y": "independent"}},
      "layer": [
        {"data": {"name": "zero"}, "mark": {"type": "rule", "color": "#008000", "strokeWidth": 1.6, "strokeDash": [8, 5]},
         "encoding": {"x": {"datum": 1.0021, "type": "quantitative", "axis": null}, "x2": {"datum": 0.92}}},
        {"data": {"name": "fd"}, "transform": [{"filter": "datum.s != 'W'"}], "mark": {"type": "line", "strokeWidth": 1.3},
         "encoding": {
           "x": {"field": "aw", "type": "quantitative", "scale": {"domain": [0.92, 1.0021], "reverse": true, "nice": false, "zero": false}, "axis": {"orient": "bottom", "values": [1.0, 0.99, 0.98, 0.97, 0.96, 0.95, 0.94, 0.93, 0.92], "format": ".2f", "tickSize": 13, "labelPadding": 7, "title": "Water activity", "titlePadding": 18}},
           "y": {"field": "F", "type": "quantitative", "scale": {"domain": [-0.1, 1.0], "nice": false, "zero": false}, "axis": {"orient": "left", "values": [0, 0.2, 0.4, 0.6, 0.8, 1.0], "format": ".1f", "tickSize": 12, "labelPadding": 10, "title": null}},
           "color": {"field": "s", "type": "nominal", "scale": {"domain": ["W", "AS", "AC", "NS"], "range": ["#000000", "#0000ff", "#ff0000", "#8a2be2"]}, "legend": null},
           "order": {"field": "o", "type": "quantitative"}
         }},
        {"data": {"name": "fd"}, "transform": [{"filter": "datum.s == 'AS' && datum.o > 0"}], "mark": {"type": "point", "shape": "square", "filled": true, "opacity": 1, "color": "#0000ff", "size": 170},
         "encoding": {
           "x": {"field": "aw", "type": "quantitative", "scale": {"domain": [0.92, 1.0021], "reverse": true, "nice": false, "zero": false}, "axis": {"orient": "bottom", "values": [0.995, 0.985, 0.975, 0.965, 0.955, 0.945, 0.935, 0.925], "labels": false, "domain": false, "tickSize": 7, "title": null}},
           "y": {"field": "F", "type": "quantitative", "scale": {"domain": [-0.1, 1.0], "nice": false, "zero": false}, "axis": {"orient": "left", "values": [0.1, 0.3, 0.5, 0.7, 0.9], "labels": false, "domain": false, "tickSize": 7, "title": null}}
         }},
        {"data": {"name": "fd"}, "transform": [{"filter": "datum.s == 'AC' && datum.o > 0"}], "mark": {"type": "point", "shape": "triangle-up", "filled": true, "opacity": 1, "color": "#ff0000", "size": 225},
         "encoding": {
           "x": {"field": "aw", "type": "quantitative", "scale": {"domain": [0.92, 1.0021], "reverse": true, "nice": false, "zero": false}, "axis": {"orient": "top", "values": [1.0, 0.99, 0.98, 0.97, 0.96, 0.95, 0.94, 0.93, 0.92], "labels": false, "tickSize": 12, "title": null}},
           "y": {"field": "F", "type": "quantitative", "scale": {"domain": [-0.1, 1.0], "nice": false, "zero": false}, "axis": {"orient": "right", "values": [0, 0.2, 0.4, 0.6, 0.8, 1.0], "labels": false, "tickSize": 12, "title": null}}
         }},
        {"data": {"name": "fd"}, "transform": [{"filter": "datum.s == 'NS' && datum.o > 0"}], "mark": {"type": "point", "shape": "circle", "filled": true, "opacity": 1, "color": "#8a2be2", "size": 195},
         "encoding": {
           "x": {"field": "aw", "type": "quantitative", "scale": {"domain": [0.92, 1.0021], "reverse": true, "nice": false, "zero": false}, "axis": {"orient": "top", "values": [0.995, 0.985, 0.975, 0.965, 0.955, 0.945, 0.935, 0.925], "labels": false, "domain": false, "tickSize": 7, "title": null}},
           "y": {"field": "F", "type": "quantitative", "scale": {"domain": [-0.1, 1.0], "nice": false, "zero": false}, "axis": {"orient": "right", "values": [0.1, 0.3, 0.5, 0.7, 0.9], "labels": false, "domain": false, "tickSize": 7, "title": null}}
         }},
        {"data": {"name": "fd"}, "transform": [{"filter": "datum.s == 'W'"}], "mark": {"type": "point", "shape": "square", "filled": true, "opacity": 1, "color": "#000000", "size": 175}},
        {"data": {"name": "d_box"}, "mark": {"type": "rect", "fill": "white", "stroke": "#333333", "strokeWidth": 1.3}, "encoding": {"x2": {"field": "aw2"}, "y2": {"field": "F2"}}},
        {"data": {"name": "d_name"}, "mark": {"type": "text", "fontSize": 50, "align": "center", "baseline": "alphabetic", "color": "black"}, "encoding": {"text": {"field": "t"}}},
        {"data": {"name": "d_lab"}, "mark": {"type": "text", "fontSize": 36, "align": "center", "baseline": "alphabetic", "color": "black"}, "encoding": {"text": {"field": "t"}}},
        {"data": {"name": "d_F"}, "mark": {"type": "text", "fontStyle": "italic", "fontSize": 40, "angle": 270, "align": "left", "baseline": "alphabetic", "color": "black"}, "encoding": {"text": {"field": "t"}}},
        {"data": {"name": "d_het"}, "mark": {"type": "text", "fontSize": 29, "angle": 270, "align": "left", "baseline": "alphabetic", "color": "black"}, "encoding": {"text": {"field": "t"}}}
      ]
    }
  ]
}
